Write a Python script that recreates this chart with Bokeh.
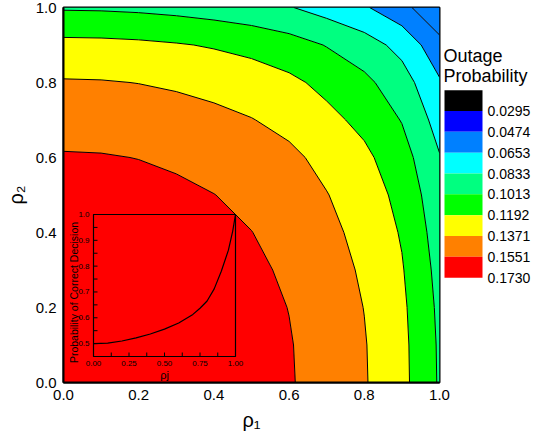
import numpy as np
from bokeh.plotting import figure
from bokeh.layouts import row
from bokeh.models import Range1d, FixedTicker, PrintfTickFormatter
from bokeh.embed import file_html
from bokeh.resources import INLINE
from bokeh.core.properties import value

# ---------------- data ----------------
rho1 = [0.0, 0.1, 0.2, 0.3, 0.4, 0.5, 0.6, 0.7, 0.8, 0.9, 1.0]
rho2 = [0.0, 0.1, 0.2, 0.3, 0.4, 0.5, 0.6, 0.7, 0.8, 0.9, 1.0]

# outage probability: one row per rho2 value, one column per rho1 value
op_r00 = [0.1725, 0.1721, 0.1708, 0.1687, 0.1658, 0.1620, 0.1565, 0.1480, 0.1385, 0.1242, 0.0995]
op_r01 = [0.1721, 0.1717, 0.1704, 0.1683, 0.1654, 0.1616, 0.1561, 0.1476, 0.1381, 0.1238, 0.0991]
op_r02 = [0.1708, 0.1704, 0.1691, 0.1670, 0.1641, 0.1603, 0.1548, 0.1463, 0.1368, 0.1226, 0.0979]
op_r03 = [0.1687, 0.1683, 0.1670, 0.1649, 0.1620, 0.1582, 0.1527, 0.1443, 0.1348, 0.1205, 0.0959]
op_r04 = [0.1658, 0.1654, 0.1641, 0.1620, 0.1591, 0.1553, 0.1499, 0.1414, 0.1320, 0.1177, 0.0931]
op_r05 = [0.1620, 0.1616, 0.1603, 0.1582, 0.1553, 0.1516, 0.1461, 0.1377, 0.1282, 0.1141, 0.0895]
op_r06 = [0.1565, 0.1561, 0.1548, 0.1527, 0.1499, 0.1461, 0.1407, 0.1323, 0.1229, 0.1087, 0.0843]
op_r07 = [0.1480, 0.1476, 0.1463, 0.1443, 0.1414, 0.1377, 0.1323, 0.1239, 0.1146, 0.1005, 0.0763]
op_r08 = [0.1385, 0.1381, 0.1368, 0.1348, 0.1320, 0.1282, 0.1229, 0.1146, 0.1053, 0.0914, 0.0672]
op_r09 = [0.1242, 0.1238, 0.1226, 0.1205, 0.1177, 0.1141, 0.1087, 0.1005, 0.0914, 0.0775, 0.0537]
op_r10 = [0.0995, 0.0991, 0.0979, 0.0959, 0.0931, 0.0895, 0.0843, 0.0763, 0.0672, 0.0537, 0.0302]

levels = [0.0295, 0.0474, 0.0653, 0.0833, 0.1013, 0.1192, 0.1371, 0.1551, 0.1730]
level_labels = ["0.0295", "0.0474", "0.0653", "0.0833", "0.1013", "0.1192", "0.1371", "0.1551", "0.1730"]
scale_colors = ["#000000", "#0000FF", "#0080FF", "#00FFFF", "#00FF80", "#00FF00", "#FFFF00", "#FF8000", "#FF0000"]
band_fill = ["#0080FF", "#0080FF", "#00FFFF", "#00FF80", "#00FF00", "#FFFF00", "#FF8000", "#FF0000"]

axis_ticks = [0.0, 0.2, 0.4, 0.6, 0.8, 1.0]

# inset: probability of correct decision vs rho_j
inset_rho = [0.0, 0.1, 0.2, 0.3, 0.4, 0.5, 0.6, 0.7, 0.75, 0.8, 0.85, 0.9, 0.95, 0.98, 1.0]
inset_pcd = [0.500, 0.502, 0.510, 0.522, 0.537, 0.556, 0.580, 0.613, 0.637, 0.665, 0.712, 0.780, 0.862, 0.935, 1.0]
inset_xticks = [0.0, 0.25, 0.5, 0.75, 1.0]
inset_xlabels = ["0.00", "0.25", "0.50", "0.75", "1.00"]
inset_yticks = [0.5, 0.6, 0.7, 0.8, 0.9, 1.0]
inset_ylabels = ["0.5", "0.6", "0.7", "0.8", "0.9", "1.0"]
inset_xmarks = [0.0, 0.125, 0.25, 0.375, 0.5, 0.625, 0.75, 0.875, 1.0]
inset_ymarks = [0.5, 0.55, 0.6, 0.65, 0.7, 0.75, 0.8, 0.85, 0.9, 0.95, 1.0]
inset_xlim = (0.0, 1.0)
inset_ylim = (0.45, 1.0)

FONT = "Liberation Sans"

# ---------------- main plot ----------------
FL, FR, FT, FB = 63, 439, 7, 382          # frame edges in page pixels
p = figure(width=452, height=440, x_range=Range1d(0, 1), y_range=Range1d(0, 1),
           output_backend="svg", toolbar_location=None,
           min_border_left=FL, min_border_right=452 - FR, min_border_top=FT,
           min_border_bottom=440 - FB)
p.grid.visible = False
p.background_fill_color = "white"
p.border_fill_color = "white"
p.outline_line_color = "black"
p.outline_line_width = 2

z = np.array([op_r00, op_r01, op_r02, op_r03, op_r04, op_r05,
              op_r06, op_r07, op_r08, op_r09, op_r10])
p.contour(x=np.array(rho1), y=np.array(rho2), z=z, levels=levels,
          fill_color=band_fill, line_color="black", line_width=1)

for ax in (p.xaxis[0], p.yaxis[0]):
    ax.ticker = FixedTicker(ticks=axis_ticks)
    ax.formatter = PrintfTickFormatter(format="%.1f")
    ax.major_label_text_font = FONT
    ax.major_label_text_font_size = "15px"
    ax.major_label_text_color = "black"
    ax.major_tick_out = 0
    ax.major_tick_in = 0
    ax.minor_tick_out = 0
    ax.minor_tick_in = 0
    ax.axis_line_color = "black"
    ax.axis_line_width = 2
    ax.major_label_standoff = 7
    ax.axis_label_text_font = FONT
    ax.axis_label_text_font_size = "20px"
    ax.axis_label_text_font_style = "normal"
    ax.axis_label_text_color = "black"
    ax.axis_label_standoff = 6
p.xaxis[0].axis_label = "ρ₁"
p.yaxis[0].axis_label = "ρ₂"

# ---------------- inset (own ranges mapped onto the frame) ----------------
IL, IR, IT, IB = 93, 235, 214, 356       # inset box in page pixels
sx = (inset_xlim[1] - inset_xlim[0]) / (IR - IL)
sy = (inset_ylim[1] - inset_ylim[0]) / (IB - IT)
p.extra_x_ranges = {"ix": Range1d(inset_xlim[0] - (IL - FL) * sx, inset_xlim[1] + (FR - IR) * sx)}
p.extra_y_ranges = {"iy": Range1d(inset_ylim[0] - (FB - IB) * sy, inset_ylim[1] + (IT - FT) * sy)}
kw = dict(x_range_name="ix", y_range_name="iy")

p.line(inset_rho, inset_pcd, line_color="black", line_width=1.2, **kw)
p.quad(left=[inset_xlim[0]], right=[inset_xlim[1]], bottom=[inset_ylim[0]], top=[inset_ylim[1]],
       fill_color=None, line_color="black", line_width=1.2, **kw)
p.ray(x=[inset_xlim[0]] * len(inset_ymarks), y=inset_ymarks, length=4, length_units="screen",
      angle=0, line_color="black", line_width=1, **kw)
p.ray(x=inset_xmarks, y=[inset_ylim[0]] * len(inset_xmarks), length=4, length_units="screen",
      angle=np.pi / 2, line_color="black", line_width=1, **kw)
p.text(x=[inset_xlim[0]] * len(inset_yticks), y=inset_yticks, text=inset_ylabels,
       text_align="right", text_baseline="middle", x_offset=-4,
       text_font=value(FONT), text_font_size="8px", text_color="black", **kw)
p.text(x=inset_xticks, y=[inset_ylim[0]] * len(inset_xticks), text=inset_xlabels,
       text_align="center", text_baseline="top", y_offset=4,
       text_font=value(FONT), text_font_size="8px", text_color="black", **kw)
p.text(x=[inset_xlim[0] - 20 * sx], y=[inset_ylim[1] - 78 * sy], text=["Probability of Correct Decision"],
       angle=np.pi / 2, text_align="center", text_baseline="middle",
       text_font=value(FONT), text_font_size="10.5px", text_color="black", **kw)
p.text(x=[(inset_xlim[0] + inset_xlim[1]) / 2], y=[inset_ylim[0]], text=["ρj"],
       text_align="center", text_baseline="top", y_offset=12,
       text_font=value(FONT), text_font_size="11px", text_color="black", **kw)

# ---------------- colour scale (own small figure, page-pixel ranges) ----------------
CB_LEFT = FR
cb = figure(width=543 - CB_LEFT, height=440, x_range=Range1d(CB_LEFT, 543), y_range=Range1d(440, 0),
            output_backend="svg", toolbar_location=None, min_border=0,
            x_axis_location=None, y_axis_location=None, margin=(0, 0, 0, CB_LEFT - 452))
cb.grid.visible = False
cb.outline_line_color = None
cb.background_fill_color = None
cb.border_fill_color = None

BAR_TOP, BAR_H = 97, 220 / len(scale_colors)
n = len(scale_colors)
tops = [BAR_TOP + i * BAR_H for i in range(n)]
bottoms = [BAR_TOP + (i + 1) * BAR_H for i in range(n)]
cb.quad(left=[444] * n, right=[482] * n, top=tops, bottom=bottoms,
        fill_color=scale_colors, line_color=None)
cb.text(x=[487] * len(level_labels), y=bottoms, text=level_labels,
        text_align="left", text_baseline="middle",
        text_font=value(FONT), text_font_size="14px", text_color="black")
cb.text(x=[443, 443], y=[57, 80], text=["Outage", "Probability"],
        text_align="left", text_baseline="middle",
        text_font=value(FONT), text_font_size="18px", text_color="black")

layout = row(p, cb)
open("out.html", "w").write(file_html(layout, INLINE))
